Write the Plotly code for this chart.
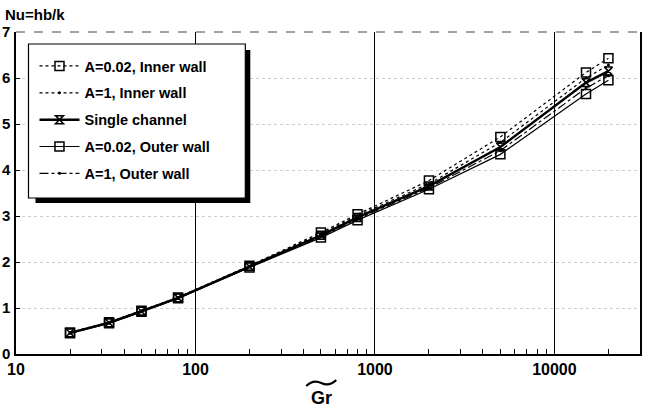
import plotly.graph_objects as go

gr = [20, 33, 50, 80, 200, 500, 800, 2000, 5000, 15000, 20000]
nu_a002_inner = [0.47, 0.69, 0.94, 1.23, 1.92, 2.64, 3.04, 3.77, 4.72, 6.12, 6.43]
nu_a1_inner = [0.46, 0.69, 0.94, 1.23, 1.91, 2.61, 3.01, 3.70, 4.60, 6.00, 6.28]
nu_single = [0.46, 0.68, 0.93, 1.22, 1.90, 2.58, 2.97, 3.65, 4.50, 5.90, 6.15]
nu_a002_outer = [0.45, 0.67, 0.92, 1.21, 1.88, 2.53, 2.91, 3.58, 4.34, 5.65, 5.95]
nu_a1_outer = [0.45, 0.67, 0.92, 1.21, 1.89, 2.55, 2.94, 3.61, 4.42, 5.78, 6.05]

x_ticks = [10, 100, 1000, 10000]
x_ticklabels = ["10", "100", "1000", "10000"]
y_ticks = [0, 1, 2, 3, 4, 5, 6, 7]

FONT = "Liberation Sans, Arial, sans-serif"

series = [
    ("A=0.02, Inner wall", nu_a002_inner, dict(dash="dot", width=1.2),
     dict(symbol="square-open", size=9, color="black", line=dict(width=1.5))),
    ("A=1, Inner wall", nu_a1_inner, dict(dash="dot", width=1.2),
     dict(symbol="circle", size=3, color="black")),
    ("Single channel", nu_single, dict(dash="solid", width=2.5),
     dict(symbol="hourglass-open", size=8, color="black", line=dict(width=1.5))),
    ("A=0.02, Outer wall", nu_a002_outer, dict(dash="solid", width=1.2),
     dict(symbol="square-open", size=9, color="black", line=dict(width=1.5))),
    ("A=1, Outer wall", nu_a1_outer, dict(dash="dashdot", width=1.2),
     dict(symbol="circle", size=3, color="black")),
]

fig = go.Figure()
for i, (name, ys, ln, mk) in enumerate(series):
    fig.add_trace(go.Scatter(
        x=gr, y=ys, name="<b>%s</b>" % name, mode="lines+markers",
        line=dict(color="black", **ln), marker=mk, legendgroup=str(i),
    ))

# plot area in pixels: left 15.5, right 640, top 32, bottom 354
L, R, T, B = 15.5, 640.0, 32.0, 354.0
def px(xp):
    return (xp - L) / (R - L)
def py(yp):
    return (B - yp) / (B - T)

tilde_path = "M %f,%f Q %f,%f %f,%f T %f,%f" % (
    px(306), py(386), px(313), py(379), px(321), py(383), px(336), py(380))

shapes = [
    # legend shadow
    dict(type="rect", xref="paper", yref="paper", x0=px(35), x1=px(250), y0=py(203), y1=py(50),
         fillcolor="black", line=dict(width=0), layer="above"),
    # legend box
    dict(type="rect", xref="paper", yref="paper", x0=px(28), x1=px(245), y0=py(198), y1=py(44),
         fillcolor="white", line=dict(color="black", width=1.2), layer="above"),
    # top border (dashed)
    dict(type="line", xref="paper", yref="paper", x0=0, x1=1, y0=1, y1=1,
         line=dict(color="#444444", width=1, dash="dash"), layer="above"),
    # tilde accent over Gr
    dict(type="path", xref="paper", yref="paper", path=tilde_path,
         line=dict(color="black", width=2.2)),
]

fig.update_layout(
    width=647, height=410,
    margin=dict(l=15.5, r=7, t=32, b=56, autoexpand=False),
    paper_bgcolor="white", plot_bgcolor="white",
    font=dict(family=FONT, color="black", size=14),
    showlegend=True,
    legend=dict(
        x=px(34), y=py(50), xanchor="left", yanchor="top",
        bgcolor="rgba(0,0,0,0)", borderwidth=0,
        font=dict(family=FONT, size=14.5, color="black"),
        traceorder="grouped", tracegroupgap=5, itemwidth=40,
    ),
    shapes=shapes,
    annotations=[
        dict(text="<b>Nu=hb/k</b>", xref="paper", yref="paper", x=px(2), y=py(14),
             xanchor="left", yanchor="middle", showarrow=False, font=dict(size=15)),
        dict(text="<b>Gr</b>", xref="paper", yref="paper", x=px(321), y=py(398),
             xanchor="center", yanchor="middle", showarrow=False, font=dict(size=18)),
    ],
)

fig.update_xaxes(
    type="log", range=[1, 4.477], automargin=False,
    tickvals=x_ticks, ticktext=["<b>%s</b>" % t for t in x_ticklabels],
    ticks="inside", ticklen=7, tickcolor="black", tickwidth=1,
    showline=True, linecolor="black", linewidth=1.5, mirror=False,
    showgrid=True, gridcolor="black", gridwidth=1,
    minor=dict(ticks="inside", ticklen=5, tickcolor="black", dtick="D1", showgrid=False),
    tickfont=dict(size=16), zeroline=False,
)
fig.update_yaxes(
    range=[0, 7], tickvals=y_ticks, ticktext=["<b>%d</b>" % v for v in y_ticks],
    ticks="inside", ticklen=4, tickcolor="black", automargin=False,
    showline=True, linecolor="black", linewidth=1.5, mirror=True,
    showgrid=True, gridcolor="#cccccc", gridwidth=1, griddash="dot",
    tickfont=dict(size=15), zeroline=False, ticklabelstandoff=1,
)

fig.write_html("out.html", config={"displayModeBar": False},
               post_script="document.body.style.margin='0';")
